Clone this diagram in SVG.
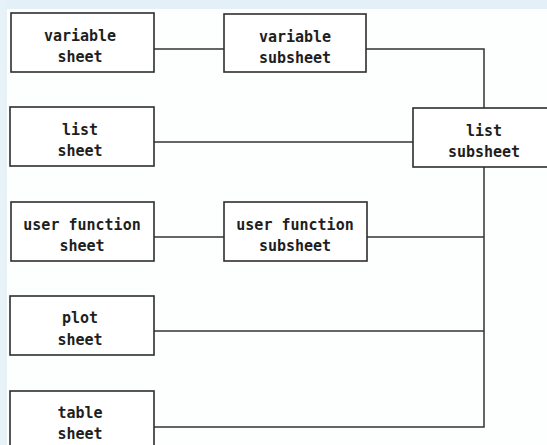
<svg xmlns="http://www.w3.org/2000/svg" width="547" height="445" viewBox="0 0 547 445">
<style>
.box{fill:#ffffff;stroke:#2e2e2e;stroke-width:1.6}
.lbl{font-family:"DejaVu Sans Mono","Liberation Mono",monospace;font-weight:bold;font-size:15px;fill:#1e1e1e;text-anchor:middle}
.con{fill:none;stroke:#333333;stroke-width:1.5}
</style>
<rect x="0" y="0" width="547" height="445" fill="#fdfefe"/>
<rect x="0" y="0" width="547" height="9" fill="#e3f0f7"/>
<rect x="0" y="0" width="7" height="445" fill="#e6f2f8"/>
<g id="connectors">
<path class="con" d="M154 49 H224"/>
<path class="con" d="M366 49 H484 V108"/>
<path class="con" d="M154 142 H413"/>
<path class="con" d="M154 237 H224"/>
<path class="con" d="M367 237 H484"/>
<path class="con" d="M154 331 H484"/>
<path class="con" d="M154 427 H484 V167"/>
</g>
<g id="variable-sheet">
<rect class="box" x="11" y="13" width="143" height="59"/>
<text class="lbl" x="80" y="41">variable</text>
<text class="lbl" x="80" y="62">sheet</text>
</g>
<g id="variable-subsheet">
<rect class="box" x="224" y="14" width="142" height="58"/>
<text class="lbl" x="295" y="42">variable</text>
<text class="lbl" x="295" y="63">subsheet</text>
</g>
<g id="list-sheet">
<rect class="box" x="10" y="107" width="144" height="59"/>
<text class="lbl" x="80" y="135">list</text>
<text class="lbl" x="80" y="156">sheet</text>
</g>
<g id="list-subsheet">
<rect class="box" x="413" y="108" width="143" height="59"/>
<text class="lbl" x="484" y="136">list</text>
<text class="lbl" x="484" y="157">subsheet</text>
</g>
<g id="user-function-sheet">
<rect class="box" x="11" y="202" width="143" height="59"/>
<text class="lbl" x="82" y="230">user function</text>
<text class="lbl" x="82" y="251">sheet</text>
</g>
<g id="user-function-subsheet">
<rect class="box" x="224" y="202" width="143" height="59"/>
<text class="lbl" x="295" y="230">user function</text>
<text class="lbl" x="295" y="251">subsheet</text>
</g>
<g id="plot-sheet">
<rect class="box" x="10" y="296" width="144" height="59"/>
<text class="lbl" x="80" y="323">plot</text>
<text class="lbl" x="80" y="345">sheet</text>
</g>
<g id="table-sheet">
<rect class="box" x="10" y="391" width="144" height="60"/>
<text class="lbl" x="80" y="418">table</text>
<text class="lbl" x="80" y="439">sheet</text>
</g>
</svg>
